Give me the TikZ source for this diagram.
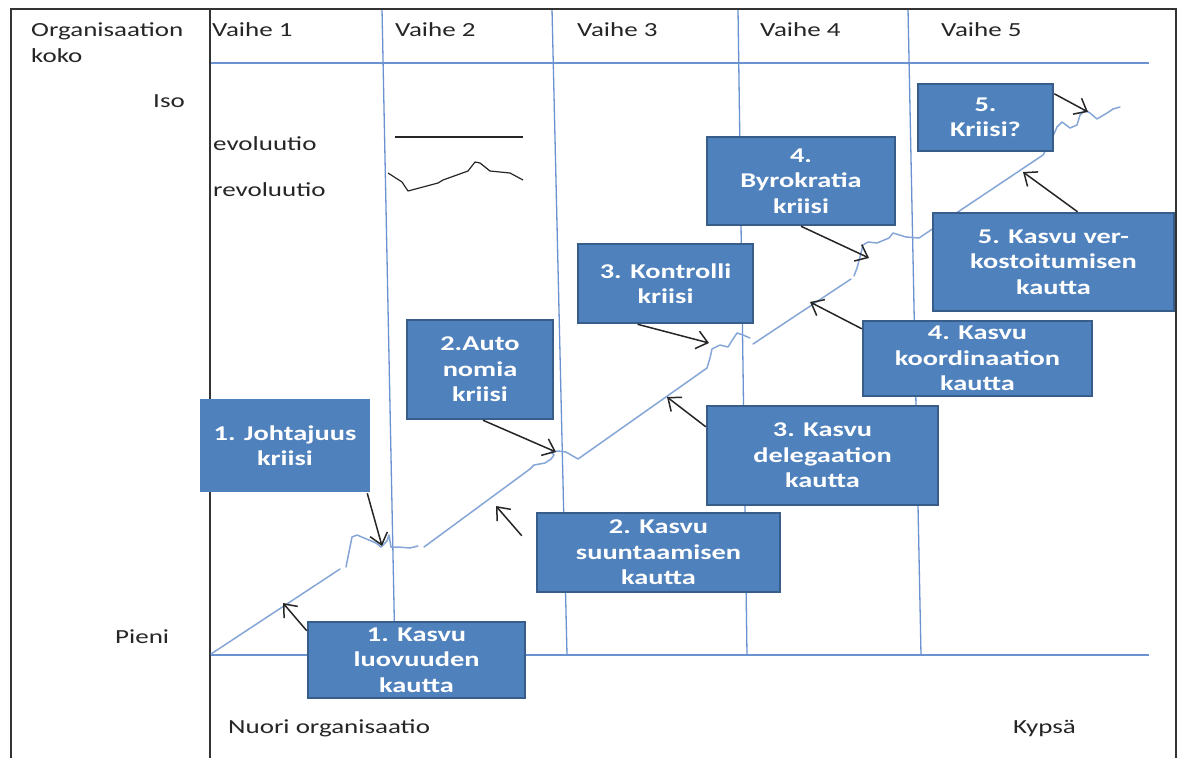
\documentclass[tikz,border=0pt]{standalone}
\usepackage{fontspec}
\setmainfont{Carlito}[FakeStretch=1.35]
\usetikzlibrary{arrows.meta}
\definecolor{boxfill}{HTML}{4F81BD}
\definecolor{boxline}{HTML}{385D8A}
\definecolor{gridc}{HTML}{6A92D0}
\definecolor{curvec}{HTML}{86A6D8}
\definecolor{txt}{HTML}{262626}
\begin{document}
\begin{tikzpicture}[x=1pt,y=-1pt,
 lbl/.style={inner sep=0pt, anchor=base west, text=txt, font=\fontsize{20}{25}\selectfont},
 crisis/.style={draw=boxline, line width=2.5pt, fill=boxfill, text=white, align=center,
   font=\fontsize{21}{25.5}\selectfont\bfseries, inner sep=0pt},
 flatbox/.style={crisis, draw=none},
 gridline/.style={gridc, line width=1.3pt},
 growth/.style={curvec, line width=1.5pt, line join=round, line cap=round},
 arr/.style={-{Straight Barb[length=11pt,width=18pt]}, line width=1.5pt, black!85},
 frame/.style={black!80, line width=1.6pt}
]
\useasboundingbox (0,0) rectangle (1182,758);
\fill[white] (0,0) rectangle (1182,758);

% grid
\draw[gridline] (210,63) -- (1149,63);
\draw[gridline] (210,655) -- (1149,655);
\draw[gridline] (382,9) -- (395,655);
\draw[gridline] (552,9) -- (567,655);
\draw[gridline] (738,9) -- (747,655);
\draw[gridline] (908,9) -- (921,655);

% frame
\draw[frame] (11,758) -- (11,9) -- (1176,9) -- (1176,758);
\draw[frame] (210,9) -- (210,758);

% legend
\draw[black!85, line width=1.2pt] (395,137) -- (523,137);
\draw[black!85, line width=1.2pt, line join=round] (388,173) -- (402,182) -- (408,191) -- (438,183) -- (443,180) -- (468,171) -- (475,162) -- (480,163) -- (490,171) -- (510,173) -- (523,180);

% growth curve
\draw[growth] (211,654) -- (340,569);
\draw[growth] (346,567) -- (352,537) -- (357,535) -- (376,543) -- (381,547) -- (387,541) -- (389,535) -- (391,547) -- (398,547) -- (410,548) -- (418,546);
\draw[growth] (424,547) -- (530,469) -- (534,465) -- (545,463) -- (551,459) -- (554,455) -- (551,452) -- (558,451) -- (566,452) -- (578,459) -- (707,368) -- (710,358) -- (712,349) -- (720,345) -- (728,347) -- (733,339) -- (737,333) -- (743,335) -- (750,338);
\draw[growth] (753,344) -- (851,279);
\draw[growth] (854,276) -- (857,268) -- (860,257) -- (863,245) -- (868,242) -- (877,243) -- (889,238) -- (893,233) -- (906,237) -- (919,238) -- (1043,155) -- (1050,143) -- (1057,127) -- (1062,122) -- (1070,128) -- (1077,125) -- (1080,115) -- (1085,110) -- (1090,113) -- (1097,119) -- (1107,113) -- (1113,109) -- (1120,107);

% labels
\node[lbl] (org) at (31,36) {Organisaation};
\node[lbl] (koko) at (31,62) {koko};
\node[lbl] (iso) at (153,107) {Iso};
\node[lbl] (pieni) at (115,643) {Pieni};
\node[lbl] (v1) at (212,36) {Vaihe 1};
\node[lbl] (v2) at (395,36) {Vaihe 2};
\node[lbl] (v3) at (577,36) {Vaihe 3};
\node[lbl] (v4) at (760,36) {Vaihe 4};
\node[lbl] (v5) at (941,36) {Vaihe 5};
\node[lbl] (evo) at (213,150) {evoluutio};
\node[lbl] (revo) at (213,196) {revoluutio};
\node[lbl] (nuori) at (228,733) {Nuori organisaatio};
\node[lbl] (kypsa) at (1013,733) {Kypsä};

% boxes
\node[flatbox, minimum width=170pt, minimum height=93pt] (j1) at (285,445.5) {1. Johtajuus\\kriisi};
\node[crisis, minimum width=217pt, minimum height=76pt] (k1) at (416.5,660) {1. Kasvu\\luovuuden\\kautta};
\node[crisis, minimum width=146pt, minimum height=99pt] (a2) at (480,369.5) {2.Auto\\nomia\\kriisi};
\node[crisis, minimum width=243pt, minimum height=79pt] (k2) at (658.5,552.5) {2. Kasvu\\suuntaamisen\\kautta};
\node[crisis, minimum width=175pt, minimum height=79pt] (c3) at (665.5,283.5) {3. Kontrolli\\kriisi};
\node[crisis, minimum width=231pt, minimum height=99pt] (k3) at (822.5,455.5) {3. Kasvu\\delegaation\\kautta};
\node[crisis, minimum width=188pt, minimum height=88pt] (b4) at (801,181) {4.\\Byrokratia\\kriisi};
\node[crisis, minimum width=229pt, minimum height=75pt] (k4) at (977.5,358.5) {4. Kasvu\\koordinaation\\kautta};
\node[crisis, minimum width=135pt, minimum height=67pt] (c5) at (985.5,117.5) {5.\\Kriisi?};
\node[crisis, minimum width=241pt, minimum height=98pt] (k5) at (1053.5,262) {5. Kasvu ver-\\kostoitumisen\\kautta};

% arrow tips
\coordinate (t1) at (283,603);
\coordinate (t2) at (382,546);
\coordinate (t3) at (556,452);
\coordinate (t4) at (496,506);
\coordinate (t5) at (709,343);
\coordinate (t6) at (667,397);
\coordinate (t7) at (869,258);
\coordinate (t8) at (810,302);
\coordinate (t9) at (1088,112);
\coordinate (t10) at (1023,172);

% arrows
\draw[arr] ([yshift=-10pt]k1.north west) -- (t1);
\draw[arr] ([xshift=-4pt]j1.south east) -- (t2);
\draw[arr] ([xshift=3pt]a2.south) -- (t3);
\draw[arr] ([xshift=-14pt,yshift=-24pt]k2.north west) -- (t4);
\draw[arr] ([xshift=-28pt]c3.south) -- (t5);
\draw[arr] ([yshift=-22pt]k3.north west) -- (t6);
\draw[arr] (b4.south) -- (t7);
\draw[arr] ([yshift=-9pt]k4.north west) -- (t8);
\draw[arr] ([yshift=-11pt]c5.north east) -- (t9);
\draw[arr] ([xshift=24pt]k5.north) -- (t10);
\end{tikzpicture}
\end{document}
